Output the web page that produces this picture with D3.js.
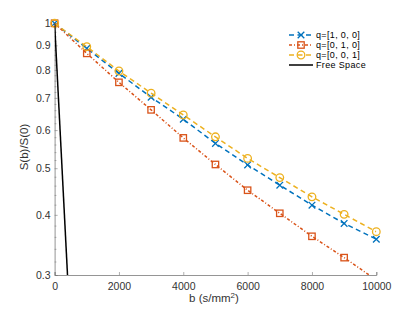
<!DOCTYPE html>
<html>
<head>
<meta charset="utf-8">
<script src="https://cdn.jsdelivr.net/npm/d3@7"></script>
<style>
html,body{margin:0;padding:0;background:#fff;}
svg{display:block;font-family:"Liberation Sans",Arial,Helvetica,sans-serif;}
</style>
</head>
<body>
<svg id="chart" width="415" height="312"></svg>
<script>
const bValues = [0,1000,2000,3000,4000,5000,6000,7000,8000,9000,10000];
const q100 = [1,0.887,0.787,0.702,0.632,0.563,0.508,0.461,0.419,0.384,0.356];
const q010 = [1,0.866,0.754,0.661,0.578,0.509,0.450,0.403,0.361,0.326,0.293];
const q001 = [1,0.894,0.796,0.716,0.645,0.581,0.524,0.478,0.436,0.401,0.369];
const freeB = [0,1000];
const freeSpace = [1,0.0498];
const xTicks = [0,2000,4000,6000,8000,10000];
const yTicks = [0.3,0.4,0.5,0.6,0.7,0.8,0.9,1];
const yMinor = [0.32,0.34,0.36,0.38,0.42,0.44,0.46,0.48,0.52,0.54,0.56,0.58,0.62,0.64,0.66,0.68,0.72,0.74,0.76,0.78,0.82,0.84,0.86,0.88,0.92,0.94,0.96,0.98];
const seriesNames = ["q=[1, 0, 0]","q=[0, 1, 0]","q=[0, 0, 1]","Free Space"];

const L = 54.6, R = 376.3, T = 23.3, B = 275;
const svg = d3.select("#chart");
const x = d3.scaleLinear().domain([0,10000]).range([L,R]);
const y = d3.scaleLog().domain([0.3,1]).range([B,T]);
const axisColor = "#7a7a7a", textColor = "#333";

svg.append("defs").append("clipPath").attr("id","clip")
  .append("rect").attr("x",L).attr("y",T).attr("width",R-L).attr("height",B-T);

// axes
const gx = svg.append("g").attr("transform",`translate(0,${B})`)
  .call(d3.axisBottom(x).tickValues(xTicks).tickSize(-3).tickPadding(6).tickFormat(d3.format("d")));
const gy = svg.append("g").attr("transform",`translate(${L},0)`)
  .call(d3.axisLeft(y).tickValues(yTicks).tickSize(-3).tickPadding(4).tickFormat(d=>d===1?"1":d3.format(".1f")(d)));
svg.append("g").attr("transform",`translate(${L},0)`)
  .call(d3.axisLeft(y).tickValues(yMinor).tickSize(-1.8).tickFormat(""))
  .call(g=>g.select(".domain").remove());
svg.selectAll(".domain").attr("stroke",axisColor).attr("stroke-width",0.8);
svg.selectAll(".tick line").attr("stroke",axisColor).attr("stroke-width",0.6);
svg.selectAll(".tick text").attr("fill",textColor).style("font-size","10.5px")
  .style("font-family","'Liberation Sans',Arial,sans-serif");
gx.selectAll(".tick text").attr("dy","0.9em");

// labels
svg.append("text").attr("x",214).attr("y",302).attr("text-anchor","middle")
  .attr("fill",textColor).style("font-size","11.5px")
  .html('b (s/mm<tspan dy="-4.5" font-size="8px">2</tspan><tspan dy="4.5">)</tspan>');
svg.append("text").attr("transform",`translate(28,147) rotate(-90)`).attr("text-anchor","middle")
  .attr("fill",textColor).style("font-size","11.5px").text("S(b)/S(0)");

const colors = ["#0072BD","#D95319","#EDB120"];
const dashes = ["5,3.5","3,2,1,2","5,3.5"];
const seriesData = [q100,q010,q001];
const line = d3.line().x(d=>x(d[0])).y(d=>y(d[1]));
const plot = svg.append("g");

function marker(g, type, cx, cy, color){
  if(type===0){
    const s=3.3;
    g.append("path").attr("d",`M${cx-s},${cy-s}L${cx+s},${cy+s}M${cx-s},${cy+s}L${cx+s},${cy-s}`)
      .attr("stroke",color).attr("stroke-width",1.3).attr("fill","none");
  } else if(type===1){
    const s=3.2;
    g.append("rect").attr("x",cx-s).attr("y",cy-s).attr("width",2*s).attr("height",2*s)
      .attr("stroke",color).attr("stroke-width",1.3).attr("fill","none");
  } else {
    g.append("circle").attr("cx",cx).attr("cy",cy).attr("r",3.8)
      .attr("stroke",color).attr("stroke-width",1.3).attr("fill","none");
  }
}

seriesData.forEach((vals,i)=>{
  const pts = bValues.map((b,j)=>[b,vals[j]]);
  plot.append("path").datum(pts).attr("d",line).attr("clip-path","url(#clip)")
    .attr("fill","none").attr("stroke",colors[i]).attr("stroke-width",1.5)
    .attr("stroke-dasharray",dashes[i]);
  const mg = plot.append("g");
  pts.filter(p=>p[1]>=0.3).forEach(p=>marker(mg,i,x(p[0]),y(p[1]),colors[i]));
});
plot.append("path").datum(freeB.map((b,j)=>[b,freeSpace[j]])).attr("d",line)
  .attr("clip-path","url(#clip)").attr("fill","none").attr("stroke","#000").attr("stroke-width",1.5);

// legend
const lg = svg.append("g");
const ly0 = 35, ldy = 10;
seriesNames.forEach((name,i)=>{
  const yy = ly0 + i*ldy;
  const color = i<3?colors[i]:"#000";
  lg.append("line").attr("x1",289).attr("x2",313).attr("y1",yy).attr("y2",yy)
    .attr("stroke",color).attr("stroke-width",1.5)
    .attr("stroke-dasharray",i<3?dashes[i]:null);
  if(i<3) marker(lg,i,301,yy,color);
  lg.append("text").attr("x",316).attr("y",yy).attr("dy","0.35em")
    .attr("fill","#000").style("font-size","9px").style("letter-spacing","0.35px").text(name);
});
</script>
</body>
</html>
